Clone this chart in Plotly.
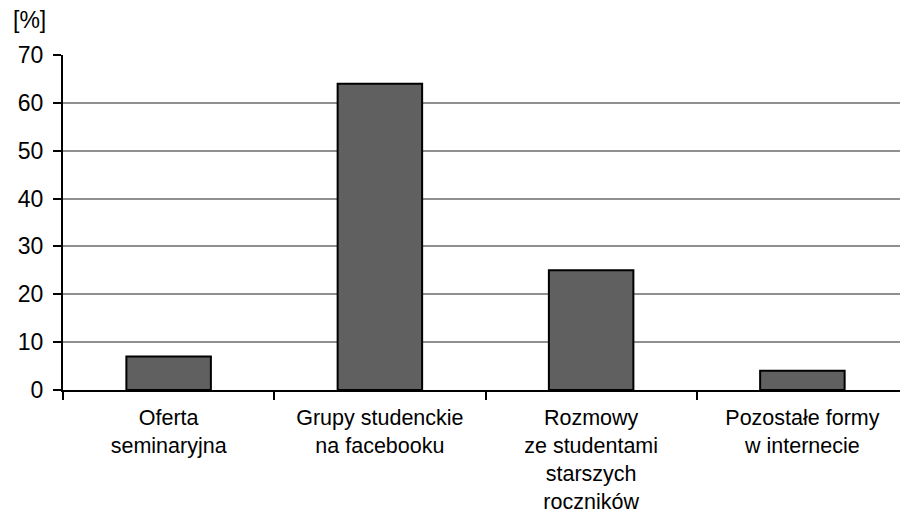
import plotly.graph_objects as go

categories = [
    "Oferta<br>seminaryjna",
    "Grupy studenckie<br>na facebooku",
    "Rozmowy<br>ze studentami<br>starszych<br>roczników",
    "Pozostałe formy<br>w internecie",
]
values = [7, 64, 25, 4]
y_ticks = [0, 10, 20, 30, 40, 50, 60, 70]

font_family = "Liberation Sans, Arial, sans-serif"

# page body has an 8px margin, so the figure is 8px smaller than the window
fig = go.Figure(
    layout=go.Layout(
        width=900,
        height=505,
        margin={'t': 47, 'b': 123, 'l': 55, 'r': 0},
        paper_bgcolor='white',
        plot_bgcolor='white',
        showlegend=False,
        bargap=0.6,
        font=dict(family=font_family, size=23, color='black'),
        annotations=[
            dict(
                text='[%]',
                xref='paper', yref='paper',
                x=-0.062, y=1.105,
                xanchor='left', yanchor='middle',
                font=dict(size=23),
                showarrow=False
            )
        ]
    )
)

fig.add_trace(
    go.Bar(
        x=categories,
        y=values,
        marker=dict(color='#606060', line=dict(color='black', width=2)),
    )
)

fig.update_yaxes(
    range=[0, 70],
    tickvals=y_ticks,
    showgrid=True,
    gridcolor='#909090',
    gridwidth=2,
    showline=True,
    linecolor='black',
    linewidth=2,
    ticks='outside',
    ticklen=8,
    tickwidth=2,
    tickcolor='black',
    ticklabelstandoff=5,
    zeroline=False,
    automargin=False,
)
fig.update_xaxes(
    showgrid=False,
    showline=True,
    linecolor='black',
    linewidth=2,
    ticks='outside',
    tickson='boundaries',
    ticklen=8,
    tickwidth=2,
    tickcolor='black',
    ticklabelstandoff=7,
    tickfont=dict(size=21.5),
    automargin=False,
)

fig.write_html("out.html")
